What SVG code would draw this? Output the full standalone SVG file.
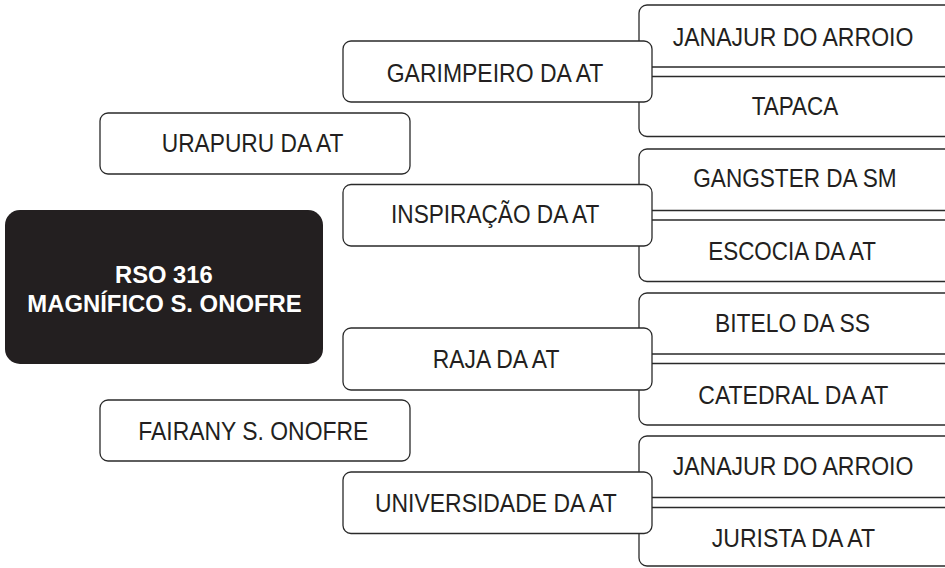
<svg xmlns="http://www.w3.org/2000/svg" width="945" height="568" viewBox="0 0 945 568">
<style>
.b{fill:#fff;stroke:#2a2a2a;stroke-width:1.3}
.t{font-family:"Liberation Sans",Arial,sans-serif;font-size:25px;fill:#231f20}
.w{font-family:"Liberation Sans",Arial,sans-serif;font-size:24.5px;font-weight:bold;fill:#fff}
</style>
<rect width="945" height="568" fill="#fff"/>
<g id="connectors"/>
<g id="root">
<rect x="5" y="210" width="318" height="154" rx="15" fill="#231f20"/>
<text class="w" x="115" y="283.3" textLength="97.7" lengthAdjust="spacingAndGlyphs">RSO 316</text>
<text class="w" x="27.3" y="311.7" textLength="274.4" lengthAdjust="spacingAndGlyphs">MAGNÍFICO S. ONOFRE</text>
</g>
<g id="sire">
<rect class="b" x="100" y="113" width="310" height="61" rx="8"/>
<text class="t" x="161.7" y="152.3" textLength="181.7" lengthAdjust="spacingAndGlyphs">URAPURU DA AT</text>
</g>
<g id="dam">
<rect class="b" x="100" y="400" width="310" height="61" rx="8"/>
<text class="t" x="138.3" y="440" textLength="230" lengthAdjust="spacingAndGlyphs">FAIRANY S. ONOFRE</text>
</g>
<g id="gg1">
<rect class="b" x="639" y="5" width="330" height="62" rx="8"/>
<text class="t" x="672.7" y="46" textLength="240.7" lengthAdjust="spacingAndGlyphs">JANAJUR DO ARROIO</text>
</g>
<g id="gg2">
<rect class="b" x="639" y="76.5" width="330" height="60" rx="8"/>
<text class="t" x="751.7" y="115" textLength="86.7" lengthAdjust="spacingAndGlyphs">TAPACA</text>
</g>
<g id="gg3">
<rect class="b" x="639" y="149" width="330" height="61.5" rx="8"/>
<text class="t" x="693.3" y="186.7" textLength="203.3" lengthAdjust="spacingAndGlyphs">GANGSTER DA SM</text>
</g>
<g id="gg4">
<rect class="b" x="639" y="220" width="330" height="61.5" rx="8"/>
<text class="t" x="708.3" y="260" textLength="167.7" lengthAdjust="spacingAndGlyphs">ESCOCIA DA AT</text>
</g>
<g id="gg5">
<rect class="b" x="639" y="293" width="330" height="61" rx="8"/>
<text class="t" x="715" y="331.7" textLength="155" lengthAdjust="spacingAndGlyphs">BITELO DA SS</text>
</g>
<g id="gg6">
<rect class="b" x="639" y="363.5" width="330" height="61.5" rx="8"/>
<text class="t" x="698.3" y="404" textLength="190" lengthAdjust="spacingAndGlyphs">CATEDRAL DA AT</text>
</g>
<g id="gg7">
<rect class="b" x="639" y="436" width="330" height="61.5" rx="8"/>
<text class="t" x="672.7" y="475" textLength="240.7" lengthAdjust="spacingAndGlyphs">JANAJUR DO ARROIO</text>
</g>
<g id="gg8">
<rect class="b" x="639" y="507.5" width="330" height="58.5" rx="8"/>
<text class="t" x="711.7" y="547.3" textLength="163.3" lengthAdjust="spacingAndGlyphs">JURISTA DA AT</text>
</g>
<g id="g1">
<rect class="b" x="343" y="41" width="309" height="61" rx="8"/>
<text class="t" x="386.7" y="81.7" textLength="216.7" lengthAdjust="spacingAndGlyphs">GARIMPEIRO DA AT</text>
</g>
<g id="g2">
<rect class="b" x="343" y="184.5" width="309" height="61.5" rx="8"/>
<text class="t" x="391" y="223.3" textLength="208.3" lengthAdjust="spacingAndGlyphs">INSPIRAÇÃO DA AT</text>
</g>
<g id="g3">
<rect class="b" x="343" y="328" width="309" height="62" rx="8"/>
<text class="t" x="432.7" y="368.3" textLength="126.7" lengthAdjust="spacingAndGlyphs">RAJA DA AT</text>
</g>
<g id="g4">
<rect class="b" x="343" y="472" width="309" height="61.5" rx="8"/>
<text class="t" x="375" y="511.7" textLength="241.7" lengthAdjust="spacingAndGlyphs">UNIVERSIDADE DA AT</text>
</g>
</svg>
